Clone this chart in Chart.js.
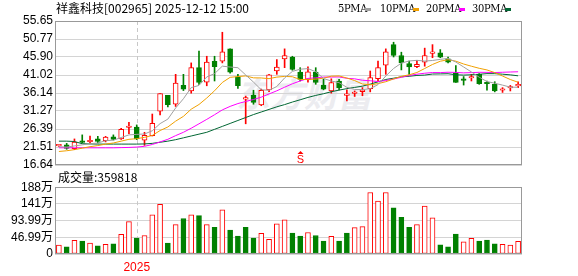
<!DOCTYPE html>
<html>
<head>
<meta charset="utf-8">
<script src="https://cdn.jsdelivr.net/npm/chart.js@4.4.1/dist/chart.umd.min.js"></script>
<style>
  html, body { margin:0; padding:0; background:#fff; }
  #wrap { position:relative; width:578px; height:276px; overflow:hidden; }
  .txt { position:absolute; white-space:nowrap; color:#000; }
  #title { left:56px; top:0px; font:12px/16px "Noto Sans CJK SC", sans-serif; }
  .lg { position:absolute; top:2px; font:11px/14px "DejaVu Serif Condensed", "DejaVu Serif", serif; letter-spacing:-0.3px; color:#000; }
  .sw { position:absolute; top:8px; width:6px; height:3px; }
  #wm { position:absolute; left:236px; top:68px; font:italic bold 34px "Noto Sans CJK SC", sans-serif; color:#ececf0; }
  canvas { position:absolute; left:0; }
  #cMain { top:0; }
  #cVol { top:178px; }
  #volTxt { left:58px; top:169px; font:12px/16px "Noto Sans CJK SC", sans-serif; }
</style>
</head>
<body>
<div id="wrap">
  <div id="wm">东方财富</div>
  <canvas id="cMain" width="578" height="178"></canvas>
  <canvas id="cVol" width="578" height="98"></canvas>
  <div class="txt" id="title">祥鑫科技[002965] 2025-12-12 15:00</div>
  <div class="lg" style="left:338px">5PMA</div><div class="sw" style="left:365px;background:#a0a0a0"></div>
  <div class="lg" style="left:380px">10PMA</div><div class="sw" style="left:413px;background:#f0a000"></div>
  <div class="lg" style="left:426px">20PMA</div><div class="sw" style="left:459px;background:#ff00ff"></div>
  <div class="lg" style="left:472px">30PMA</div><div class="sw" style="left:505px;background:#006633"></div>
  <div class="txt" id="volTxt">成交量:359818</div>
</div>
<script>
// daily bars, oldest first
const opens  = [21.8,22.1,21.05,23.1,22.95,23.75,23.2,24.3,23.7,26.8,26.9,23.4,24.6,31.2,35.5,33.1,38.2,36.7,43.0,39.1,
                44.7,44.8,48.1,40.5,34.5,35.6,32.9,37.0,42.1,45.4,45.9,41.8,39.85,41.8,38.3,36.7,39.4,35.5,36.0,36.5,
                37.35,40.0,43.7,49.25,46.3,44.1,43.25,44.5,46.9,47.0,45.4,41.6,39.7,40.2,41.2,38.75,38.5,36.9,37.5,38.06];
const highs  = [22.1,22.5,23.7,24.8,24.45,24.4,24.4,24.8,26.6,28.2,27.5,25.5,30.45,36.0,35.5,41.2,41.2,44.3,47.5,46.1,
                46.1,52.6,48.1,41.2,35.3,36.9,37.2,41.2,45.2,48.1,46.1,43.0,43.25,43.0,39.85,40.0,39.85,37.0,36.7,37.6,
                42.1,44.8,48.1,49.9,47.2,44.8,45.0,48.3,49.25,47.9,45.9,43.6,40.6,41.2,41.4,39.4,39.2,37.6,38.2,39.2];
const lows   = [21.7,20.9,20.8,22.6,22.6,22.6,22.9,23.4,23.6,25.1,23.5,21.95,24.5,30.2,32.4,32.5,36.8,36.1,38.5,38.1,
                39.4,44.3,41.5,37.4,27.8,33.1,32.7,36.5,41.2,43.0,42.3,39.4,39.1,38.5,37.0,36.1,37.0,34.0,35.2,35.4,
                36.45,39.4,41.2,45.9,42.4,41.2,43.0,43.4,45.7,45.7,44.3,39.0,38.3,39.4,38.5,36.9,36.45,36.3,36.7,37.6];
const closes = [22.0,21.1,22.85,22.75,23.3,23.0,24.2,23.6,26.3,26.9,23.7,24.7,27.95,36.0,33.0,38.8,37.2,43.0,39.0,44.5,
                43.3,47.3,41.8,38.1,34.7,33.6,36.9,41.1,43.2,46.3,42.5,39.85,41.9,39.0,37.2,39.0,37.6,35.6,36.15,37.0,
                40.3,43.0,47.3,46.3,44.3,43.2,43.9,46.3,47.05,45.85,44.5,39.0,39.55,40.35,38.7,38.65,36.7,37.0,37.6,38.5];
// volume in 万
const volumes = [24.8,20,38.5,36.7,31,23,27.5,28.4,55,91,45,52,110,140,31,82.6,100,110,108,82.6,
                 75,124,67,50.5,75,45,58,41,85,96,58.7,50.5,60.5,52,36.7,49.5,36.7,58.7,74,77,
                 173,149,173,130,103,75,82.6,135,102,25.7,20,56,34,44,36.7,39.4,28.4,27.5,24.8,35.98];

const ma5  = [21.6,21.5,21.8,22.1,22.4,22.6,23.22,23.37,24.08,24.8,24.94,25.04,25.91,27.85,29.07,32.09,34.59,37.6,38.2,40.5,
              41.4,43.42,43.18,43.0,41.04,39.1,37.02,36.88,37.9,40.22,42.0,42.59,42.75,41.91,40.09,39.39,38.94,37.68,37.11,37.07,
              37.33,38.41,40.75,42.78,44.24,44.82,45.0,44.8,44.95,45.26,45.52,44.54,43.19,41.85,40.42,39.25,38.79,38.28,37.73,37.69];
const ma10 = [20.3,20.5,20.8,21.2,21.6,21.9,22.3,22.6,23.1,23.6,23.77,24.13,24.64,25.97,26.94,28.52,29.82,31.76,33.03,34.79,
              36.75,39.0,40.39,40.6,40.77,40.25,40.22,40.03,40.45,40.63,40.55,39.8,39.82,39.9,40.16,40.7,40.77,40.2,39.51,38.58,
              38.36,38.68,39.2,39.95,40.66,41.08,41.7,42.78,43.87,44.75,45.17,44.77,44.0,43.4,42.84,42.39,41.67,40.74,39.79,39.06];
const ma20 = [21.3,21.3,21.3,21.3,21.3,21.3,21.3,21.3,21.35,21.4,21.5,21.7,22.2,22.9,23.6,24.6,25.5,26.6,27.8,29.0,
              30.26,31.57,32.52,33.28,33.85,34.38,35.02,35.89,36.74,37.71,38.65,39.4,40.1,40.25,40.46,40.47,40.49,40.12,39.98,39.6,
              39.46,39.24,39.52,39.93,40.4,40.89,41.24,41.5,41.69,41.67,41.77,41.72,41.6,41.67,41.75,41.73,41.69,41.76,41.83,41.9];
const ma30 = [23.1,23.1,23.0,22.4,22.35,22.3,22.3,22.3,22.3,22.3,22.3,22.35,22.5,22.8,23.1,23.5,24.0,24.5,25.0,25.5,
              26.3,27.1,27.9,28.7,29.5,30.3,31.0,31.7,32.4,33.0,33.69,34.31,34.95,35.49,35.95,36.49,36.93,37.33,37.66,38.0,
              38.55,39.16,39.81,40.15,40.53,40.67,40.9,41.0,41.28,41.32,41.36,41.08,41.0,41.08,41.22,41.39,41.38,41.24,41.06,40.8];

const priceTicks = [16.64,21.51,26.39,31.27,36.14,41.02,45.90,50.77,55.65];
const priceTickLabels = ['16.64','21.51','26.39','31.27','36.14','41.02','45.90','50.77','55.65'];
const volTicks = [0,46.99,93.99,140.98,187.97];
const volTickLabels = ['0','46.99万','93.99万','141万','188万'];
const yearIndex = 10, yearLabel = '2025';
const markIndex = 31, markText = 'S';

const RED = '#ff0000', GREEN = '#008000';
const FONT = '"Liberation Sans", "Noto Sans CJK SC", sans-serif';
const days = opens.map((_, i) => i);
const isUp = i => closes[i] >= opens[i];
const volUp = i => i === 0 ? isUp(0) : closes[i] >= closes[i-1];

const framePlugin = {
    id: 'frame',
    beforeDatasetsDraw(chart) {
        const {ctx, chartArea: a, scales} = chart;
        const x = Math.round(scales.x.getPixelForValue(yearIndex)) + 0.5;
        ctx.save();
        ctx.strokeStyle = '#c8c8c8';
        ctx.setLineDash([4, 3]);
        ctx.beginPath(); ctx.moveTo(x, a.top); ctx.lineTo(x, a.bottom); ctx.stroke();
        ctx.restore();
    },
    afterDatasetsDraw(chart) {
        const {ctx, chartArea: a} = chart;
        ctx.save();
        ctx.strokeStyle = '#999';
        ctx.lineWidth = 1;
        ctx.strokeRect(Math.round(a.left) + 0.5, Math.round(a.top) + 0.5,
                       Math.round(a.right - a.left) - 1, Math.round(a.bottom - a.top) - 1);
        ctx.restore();
    }
};

const markPlugin = {
    id: 'mark',
    afterDatasetsDraw(chart) {
        const {ctx, chartArea: a, scales} = chart;
        const x = Math.round(scales.x.getPixelForValue(markIndex));
        ctx.save();
        ctx.fillStyle = RED;
        ctx.beginPath(); ctx.moveTo(x - 2.5, a.bottom - 11); ctx.lineTo(x + 0.5, a.bottom - 14); ctx.lineTo(x + 3.5, a.bottom - 11); ctx.fill();
        ctx.font = '11px ' + FONT;
        ctx.textAlign = 'center';
        ctx.textBaseline = 'bottom';
        ctx.fillText(markText, x + 0.5, a.bottom);
        ctx.restore();
    }
};

function maLine(data, color) {
    return {type: 'line', data, borderColor: color, borderWidth: 1, pointRadius: 0, fill: false, order: 0};
}

new Chart(document.getElementById('cMain'), {
    type: 'bar',
    data: {
        labels: days,
        datasets: [
            maLine(ma5, '#a0a0a0'),
            maLine(ma10, '#f0a000'),
            maLine(ma20, '#ff00ff'),
            maLine(ma30, '#006633'),
            {
                data: days.map(i => [opens[i], closes[i]]),
                backgroundColor: days.map(i => isUp(i) ? '#fff' : GREEN),
                borderColor: days.map(i => isUp(i) ? RED : GREEN),
                borderWidth: 1, borderSkipped: false,
                barThickness: 5, minBarLength: 1.5, grouped: false, order: 1
            },
            {
                data: days.map(i => [lows[i], highs[i]]),
                backgroundColor: days.map(i => isUp(i) ? RED : GREEN),
                borderWidth: 0, barThickness: 1, grouped: false, order: 2
            }
        ]
    },
    options: {
        responsive: false, animation: false,
        layout: {padding: {top: 21, right: 56, bottom: 13, left: 0}},
        plugins: {legend: {display: false}, tooltip: {enabled: false}},
        scales: {
            x: {display: false, offset: true},
            y: {
                min: 16.64, max: 55.65,
                afterFit(s) { s.width = 55; },
                afterBuildTicks(s) { s.ticks = priceTicks.map(v => ({value: v})); },
                ticks: {autoSkip: false, callback: (v, i) => priceTickLabels[i], padding: 2, color: '#000', font: {size: 12, family: FONT}},
                grid: {color: '#d4d4d4', drawTicks: false},
                border: {display: false}
            }
        }
    },
    plugins: [framePlugin, markPlugin]
});

new Chart(document.getElementById('cVol'), {
    type: 'bar',
    data: {
        labels: days,
        datasets: [{
            data: volumes,
            backgroundColor: days.map(i => volUp(i) ? '#fff' : GREEN),
            borderColor: days.map(i => volUp(i) ? RED : GREEN),
            borderWidth: 1, borderSkipped: false, barThickness: 5
        }]
    },
    options: {
        responsive: false, animation: false,
        layout: {padding: {top: 8, right: 56, bottom: 0, left: 0}},
        plugins: {legend: {display: false}, tooltip: {enabled: false}},
        scales: {
            x: {
                offset: true,
                afterFit(s) { s.height = 22; },
                ticks: {autoSkip: false, maxRotation: 0, padding: 6, color: RED, font: {size: 12, family: FONT},
                        callback: (v, i) => i === yearIndex ? yearLabel : ''},
                grid: {display: false, drawTicks: false},
                border: {display: false}
            },
            y: {
                min: 0, max: 187.97,
                afterFit(s) { s.width = 55; },
                afterBuildTicks(s) { s.ticks = volTicks.map(v => ({value: v})); },
                ticks: {autoSkip: false, callback: (v, i) => volTickLabels[i], padding: 2, color: '#000', font: {size: 12, family: FONT}},
                grid: {color: '#d4d4d4', drawTicks: false},
                border: {display: false}
            }
        }
    },
    plugins: [framePlugin]
});
</script>
</body>
</html>
